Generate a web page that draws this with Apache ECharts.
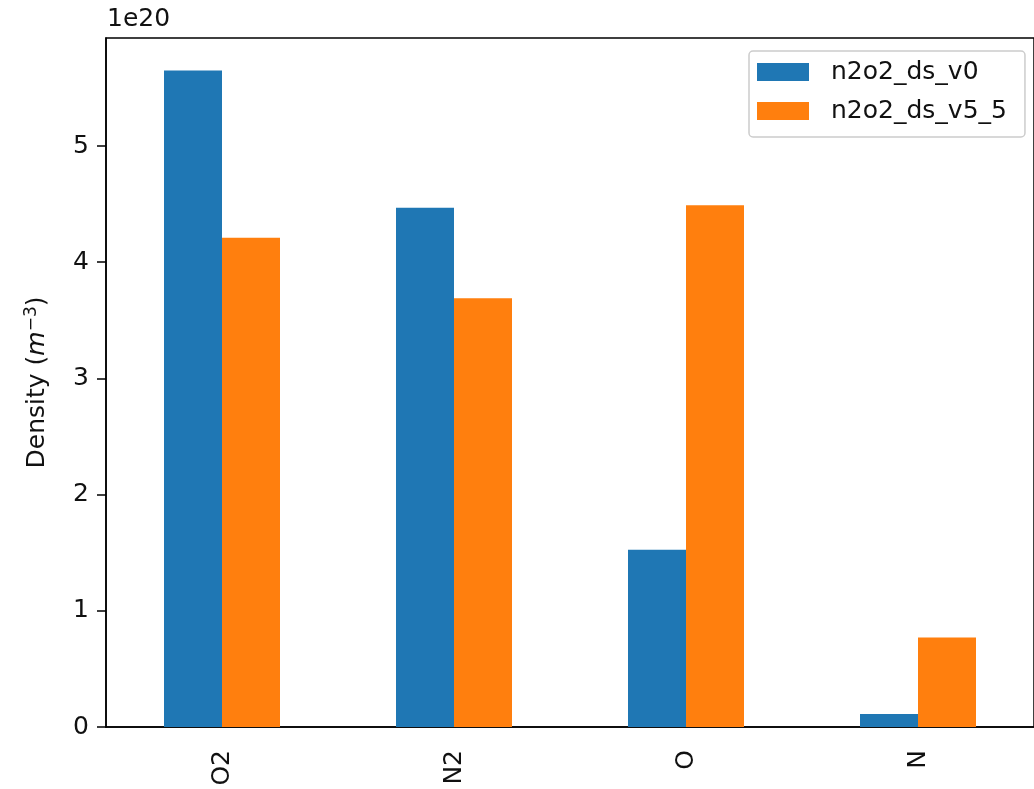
<!DOCTYPE html>
<html>
<head>
<meta charset="utf-8">
<script src="https://cdn.jsdelivr.net/npm/echarts@6/dist/echarts.min.js"></script>
<style>
  html, body { margin: 0; padding: 0; background: #ffffff; }
  #chart { width: 1034px; height: 789px; }
</style>
</head>
<body>
<div id="chart"></div>
<script>
// Species densities, in units of 1e20 m^-3
const species = ['O2', 'N2', 'O', 'N'];
const seriesNames = ['n2o2_ds_v0', 'n2o2_ds_v5_5'];
const densityV0 = [5.65, 4.47, 1.525, 0.112];
const densityV5_5 = [4.21, 3.69, 4.49, 0.77];
const yTicks = [0, 1, 2, 3, 4, 5];
const scaleLabel = '1e20';

const FONT = 'DejaVu Sans';
const FS = 25;
const INK = '#111111';

const chart = echarts.init(document.getElementById('chart'), null, { renderer: 'canvas' });

chart.setOption({
  backgroundColor: '#ffffff',
  animation: false,
  textStyle: { fontFamily: FONT },
  grid: {
    left: 106,
    top: 38,
    width: 930,
    height: 689,
    show: true,
    borderColor: '#000000',
    borderWidth: 1.5,
    backgroundColor: 'transparent'
  },
  legend: {
    data: seriesNames,
    orient: 'vertical',
    left: 749,
    top: 51,
    padding: [8, 18, 13, 8],
    itemGap: 13,
    itemWidth: 52,
    itemHeight: 18,
    icon: 'rect',
    backgroundColor: 'rgba(255,255,255,0.8)',
    borderColor: '#cccccc',
    borderWidth: 1.5,
    borderRadius: 4,
    textStyle: {
      fontFamily: FONT,
      fontSize: FS,
      color: INK,
      lineHeight: 26,
      padding: [0, 0, 0, 17]
    }
  },
  graphic: [{
    type: 'text',
    left: 107,
    top: 7,
    style: { text: scaleLabel, font: FS + 'px "' + FONT + '"', fill: INK }
  }],
  xAxis: {
    type: 'category',
    data: species,
    axisLine: { lineStyle: { color: '#000000', width: 1.5 } },
    axisTick: { alignWithLabel: true, length: 9, lineStyle: { color: '#000000', width: 1.5 } },
    axisLabel: { rotate: 90, margin: 23, fontSize: FS, fontFamily: FONT, color: INK },
    splitLine: { show: false }
  },
  yAxis: {
    type: 'value',
    min: 0,
    max: 5.93,
    interval: 1,
    name: '{a|Density (}{b|m}{s|−3}{a|)}',
    nameLocation: 'middle',
    nameRotate: 90,
    nameGap: 55,
    nameTextStyle: {
      rich: {
        a: { fontSize: FS, fontFamily: FONT, color: INK },
        b: { fontSize: FS, fontFamily: FONT, fontStyle: 'italic', color: INK },
        s: { fontSize: 17, fontFamily: FONT, color: INK, verticalAlign: 'bottom', padding: [0, 0, 11, 0] }
      }
    },
    axisLine: { show: true, lineStyle: { color: '#000000', width: 1.5 } },
    axisTick: { show: true, length: 9, customValues: yTicks, lineStyle: { color: '#000000', width: 1.5 } },
    axisLabel: {
      margin: 17,
      fontSize: FS,
      fontFamily: FONT,
      color: INK,
      customValues: yTicks
    },
    splitLine: { show: false }
  },
  series: [
    {
      name: seriesNames[0],
      type: 'bar',
      data: densityV0,
      barWidth: '25%',
      barGap: '0%',
      itemStyle: { color: '#1f77b4' }
    },
    {
      name: seriesNames[1],
      type: 'bar',
      data: densityV5_5,
      barWidth: '25%',
      barGap: '0%',
      itemStyle: { color: '#ff7f0e' }
    }
  ]
});
</script>
</body>
</html>
